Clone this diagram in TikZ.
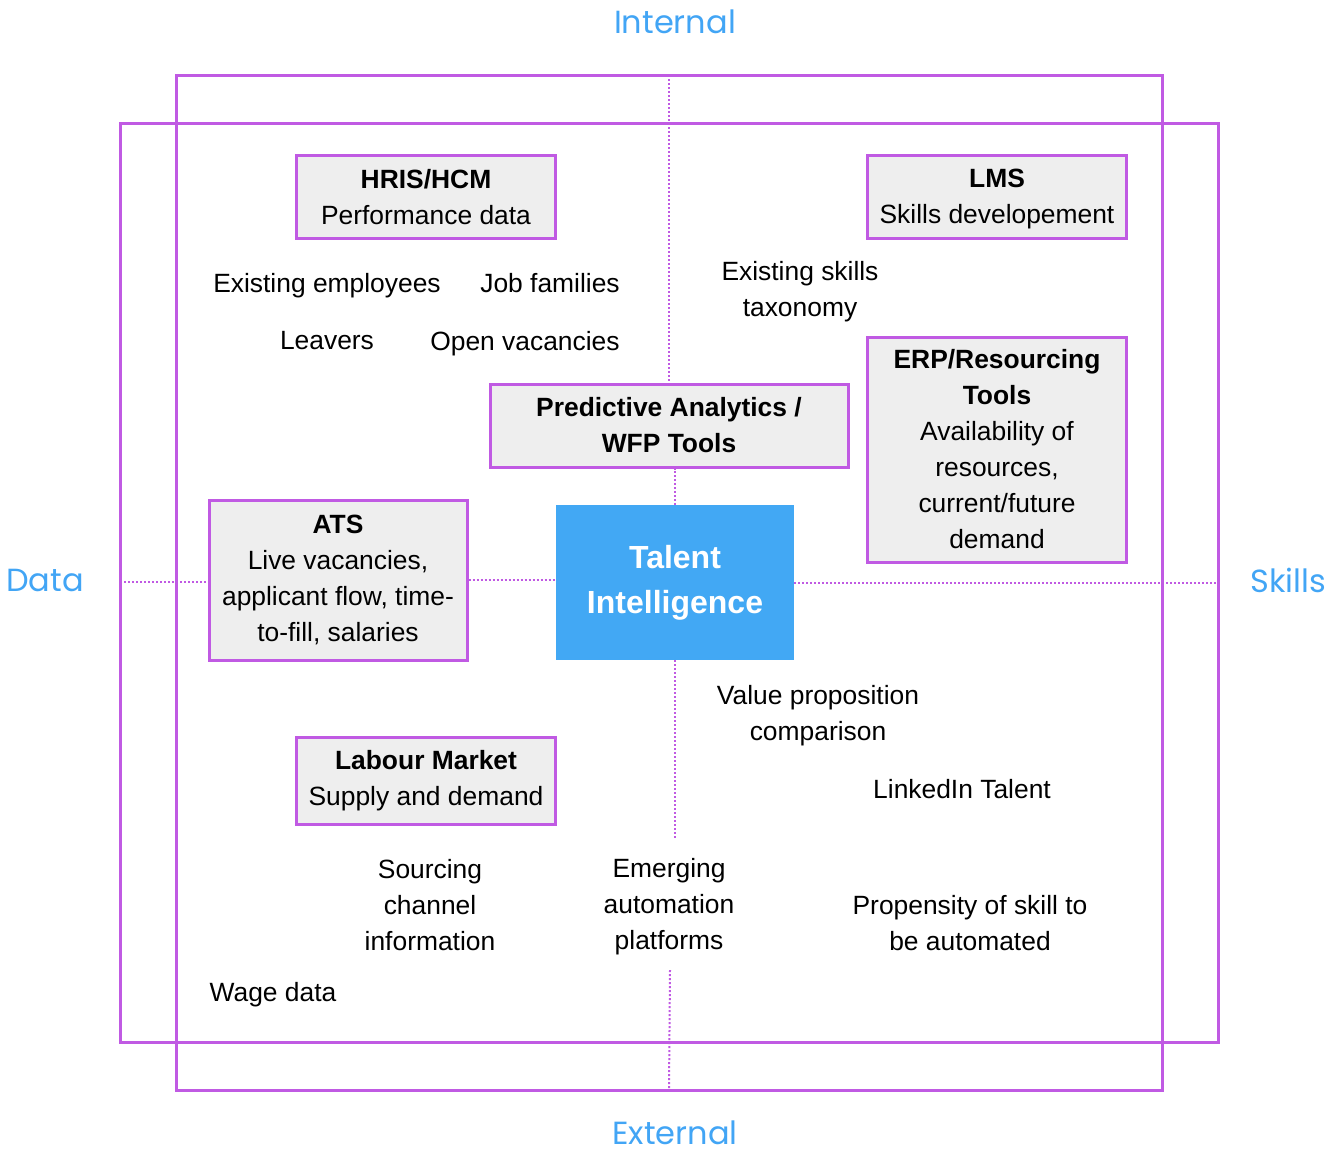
\documentclass[tikz,border=0pt]{standalone}
\usepackage{fontspec}
\setmainfont{Liberation Sans}
\newfontfamily\axisfont{Poppins}
\usetikzlibrary{positioning}
\definecolor{framepurple}{HTML}{C05AE3}
\definecolor{tiblue}{HTML}{42A8F4}
\definecolor{axisblue}{HTML}{42A5F5}
\definecolor{boxgray}{HTML}{EEEEEE}
\newcommand{\bodyfont}{\fontsize{13.2}{18}\selectfont}
\newcommand{\tifont}{\bfseries\fontsize{16}{22.5}\selectfont}
\tikzset{
  srcbox/.style={draw=framepurple,fill=boxgray,line width=1.5pt,align=center,font=\bodyfont,inner sep=2pt},
  tibox/.style={fill=tiblue,text=white,align=center,font=\tifont,minimum width=119pt,minimum height=77.5pt},
  plain/.style={align=center,font=\bodyfont,inner sep=0pt},
  axislabel/.style={text=axisblue,font=\axisfont\fontsize{16}{20}\selectfont,inner sep=0pt},
  frame/.style={draw=framepurple,line width=1.5pt},
  dotline/.style={draw=framepurple,line width=1pt,dash pattern=on 1pt off 1pt},
}

\begin{document}
\begin{tikzpicture}[x=0.5pt,y=-0.5pt]
  \useasboundingbox (0,0) rectangle (1344,1153);
  % the two overlapping frames
  \draw[frame] (176,75) rectangle (1162,1090);
  \draw[frame] (120,123) rectangle (1218,1042);
  % axis labels
  \node[axislabel] (internal) at (675,22) {Internal};
  \node[axislabel] (external) at (675,1133) {External};
  \node[axislabel] (data) at (45,580) {Data};
  \node[axislabel] (skills) at (1288,580) {Skills};
  % source systems
  \node[srcbox,minimum width=129.5pt,minimum height=41.5pt] (hris) at (426,197) {\textbf{HRIS/HCM}\\Performance data};
  \node[srcbox,minimum width=129.5pt,minimum height=41.5pt,text depth=1pt] (lms) at (997,197) {\textbf{LMS}\\Skills developement};
  \node[srcbox,minimum width=129.5pt,minimum height=112.5pt] (erp) at (997,449.5) {\textbf{ERP/Resourcing}\\\textbf{Tools}\\Availability of\\resources,\\current/future\\demand};
  \node[srcbox,minimum width=179pt,minimum height=41.5pt] (pred) at (669,425.5) {\textbf{Predictive Analytics /}\\\textbf{WFP Tools}};
  \node[srcbox,minimum width=129pt,minimum height=80pt] (ats) at (338,580) {\textbf{ATS}\\Live vacancies,\\applicant flow, time-\\to-fill, salaries};
  \node[srcbox,minimum width=129.5pt,minimum height=43.5pt] (labour) at (426,780.5) {\textbf{Labour Market}\\Supply and demand};
  \node[tibox] (ti) at (675,582.5) {Talent\\Intelligence};
  % data items
  \node[plain] (employees) at (327,286) {Existing employees};
  \node[plain] (families) at (550,283) {Job families};
  \node[plain] (leavers) at (327,341) {Leavers};
  \node[plain] (vacancies) at (525,344) {Open vacancies};
  \node[plain] (taxonomy) at (800,292) {Existing skills\\taxonomy};
  \node[plain] (valueprop) at (818,716) {Value proposition\\comparison};
  \node[plain] (linkedin) at (962,789) {LinkedIn Talent};
  \node[plain] (sourcing) at (430,905) {Sourcing\\channel\\information};
  \node[plain] (emerging) at (669,907) {Emerging\\automation\\platforms};
  \node[plain] (propensity) at (970,923) {Propensity of skill to\\be automated};
  \node[plain] (wage) at (273,995) {Wage data};
  % dotted axes
  \coordinate (topend) at (669,75);
  \coordinate (tailend) at (675,840);
  \coordinate (botstart) at (670,970);
  \coordinate (botend) at (669,1090);
  \coordinate (leftend) at (120,582);
  \coordinate (rightend) at (1218,583);
  \draw[dotline] (topend) -- (pred.north);
  \draw[dotline] (ti.north) -- (ti.north |- pred.south);
  \draw[dotline] (ti.south) -- (tailend);
  \draw[dotline] (botstart) -- (botend);
  \draw[dotline] (leftend) -- (leftend -| ats.west);
  \draw[dotline] (ats.east) -- (ats.east -| ti.west);
  \draw[dotline] (ti.east |- rightend) -- (rightend);
\end{tikzpicture}
\end{document}
